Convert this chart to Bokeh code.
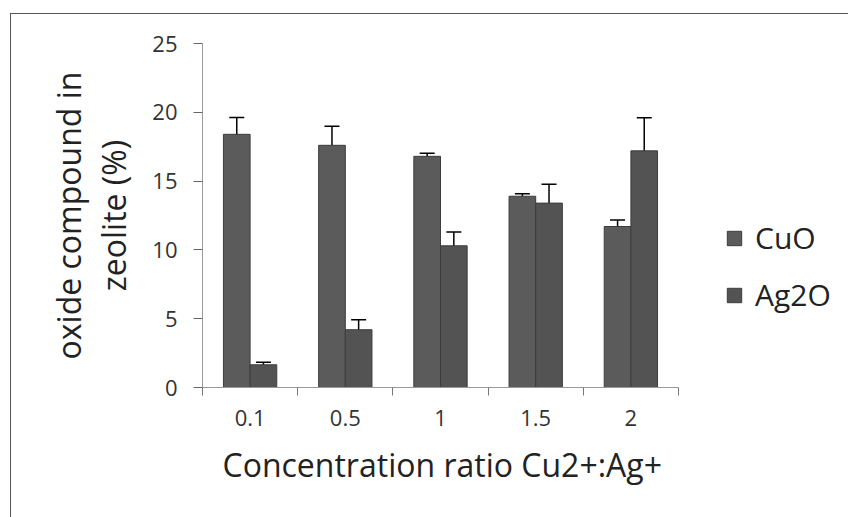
from bokeh.plotting import figure
from bokeh.models import (ColumnDataSource, Range1d, FixedTicker, Title,
                          Whisker, TeeHead, Legend, LegendItem)
from bokeh.embed import file_html
from bokeh.resources import INLINE

# ---- data ----
categories = ["0.1", "0.5", "1", "1.5", "2"]
cuo = [18.4, 17.6, 16.8, 13.9, 11.7]
cuo_err = [1.22, 1.38, 0.23, 0.18, 0.48]
ag2o = [1.65, 4.2, 10.3, 13.4, 17.2]
ag2o_err = [0.18, 0.73, 1.0, 1.37, 2.4]
y_ticks = [0, 5, 10, 15, 20, 25]

FONT = "Open Sans"
bar_w = 0.28
n = len(categories)
xc = [i + 0.5 for i in range(n)]

src_cu = ColumnDataSource(dict(
    x=[c - bar_w / 2 for c in xc], top=cuo,
    upper=[v + e for v, e in zip(cuo, cuo_err)],
    lower=[v - e for v, e in zip(cuo, cuo_err)]))
src_ag = ColumnDataSource(dict(
    x=[c + bar_w / 2 for c in xc], top=ag2o,
    upper=[v + e for v, e in zip(ag2o, ag2o_err)],
    lower=[v - e for v, e in zip(ag2o, ag2o_err)]))

# the axis occupies 476 px of a 646 px wide frame; the rest holds the legend
AXIS_PX, FRAME_PX = 476, 646
p = figure(frame_width=FRAME_PX, frame_height=344,
           x_range=Range1d(0, n * FRAME_PX / AXIS_PX), y_range=Range1d(0, 25),
           output_backend="svg", toolbar_location=None,
           min_border_left=191, min_border_right=0,
           min_border_top=29, min_border_bottom=130)
p.styles = {"margin-left": "10px", "margin-top": "13px",
            "border-left": "1px solid #555", "border-top": "1px solid #555"}
p.outline_line_color = None
p.grid.visible = False
p.background_fill_color = "white"
p.border_fill_color = "white"

r1 = p.vbar(x="x", top="top", width=bar_w, source=src_cu,
            fill_color="#5b5b5b", line_color="#3c3c3c", line_width=1)
r2 = p.vbar(x="x", top="top", width=bar_w, source=src_ag,
            fill_color="#535353", line_color="#3c3c3c", line_width=1)

for src in (src_cu, src_ag):
    w = Whisker(source=src, base="x", upper="upper", lower="lower",
                dimension="height", line_color="black", line_width=1.5,
                upper_head=TeeHead(size=15, line_color="black", line_width=1.5),
                lower_head=TeeHead(size=15, line_color="black", line_width=1.5))
    p.add_layout(w)

# x axis
xa = p.xaxis[0]
xa.bounds = (0, n)
xa.ticker = FixedTicker(ticks=xc, minor_ticks=list(range(n + 1)))
xa.major_label_overrides = {x: c for x, c in zip(xc, categories)}
xa.major_tick_out = 0
xa.major_tick_in = 0
xa.minor_tick_out = 8
xa.minor_tick_in = 0
xa.minor_tick_line_color = "#777777"
xa.axis_line_color = "#999999"
xa.major_label_text_font = FONT
xa.major_label_text_font_size = "22px"
xa.major_label_text_color = "#333333"
xa.major_label_standoff = 14

xtitle = Title(text="Concentration ratio Cu2+:Ag+", align="left",
               offset=20, standoff=24, text_font=FONT, text_font_size="32px",
               text_font_style="normal", text_color="#222222")
p.add_layout(xtitle, "below")

# y axis
ya = p.yaxis[0]
ya.ticker = FixedTicker(ticks=y_ticks)
ya.major_tick_out = 9
ya.major_tick_in = 0
ya.major_tick_line_color = "#666666"
ya.minor_tick_line_color = None
ya.axis_line_color = "#999999"
ya.major_label_text_font = FONT
ya.major_label_text_font_size = "22px"
ya.major_label_text_color = "#333333"
ya.major_label_standoff = 16
ya.axis_label = "oxide compound in\nzeolite (%)"
ya.axis_label_text_font = FONT
ya.axis_label_text_font_size = "32px"
ya.axis_label_text_font_style = "normal"
ya.axis_label_text_color = "#222222"
ya.axis_label_text_line_height = 1.05
ya.axis_label_standoff = 14

legend = Legend(items=[LegendItem(label="CuO", renderers=[r1]),
                       LegendItem(label="Ag2O", renderers=[r2])],
                location=(523, 72), orientation="vertical",
                glyph_width=18, glyph_height=18, label_standoff=12,
                label_height=41, spacing=16, padding=0, margin=0,
                border_line_color=None, background_fill_alpha=0,
                label_text_font=FONT, label_text_font_size="30px",
                label_text_color="#222222")
p.add_layout(legend, "center")

open("out.html", "w").write(file_html(p, INLINE))
